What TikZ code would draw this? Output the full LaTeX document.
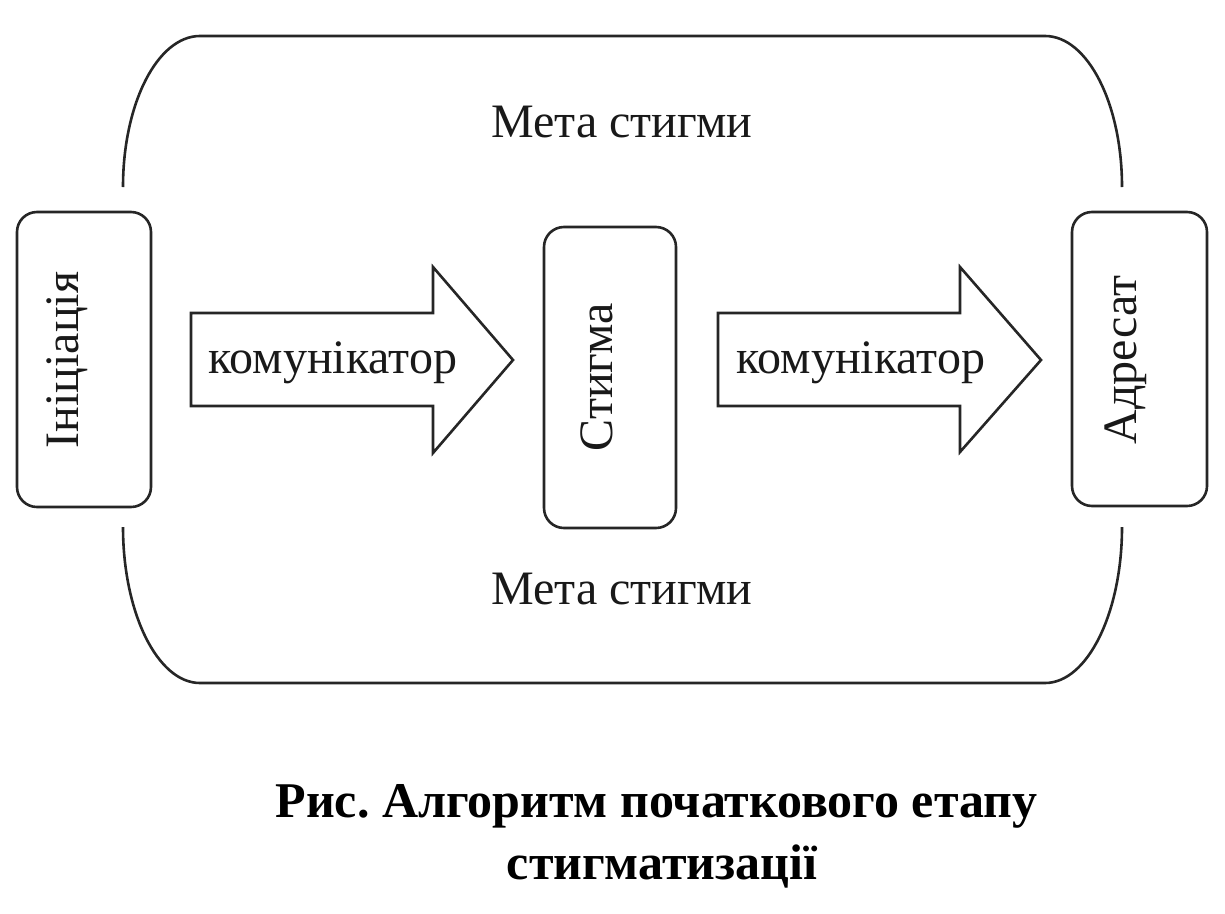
\documentclass[tikz,border=0pt]{standalone}
\usepackage{fontspec}
\setmainfont{Liberation Serif}
\frenchspacing
\begin{document}
\begin{tikzpicture}[x=1pt,y=-1pt,
  line/.style={line width=2.6pt, draw=black!85},
  roundbox/.style={line, rounded corners=20pt, inner sep=0pt},
  lbl/.style={inner sep=0pt, font=\fontsize{48}{56}\selectfont, text=black!90},
  vlbl/.style={lbl, rotate=90, anchor=base},
  captxt/.style={inner sep=0pt, anchor=base, font=\bfseries\fontsize{50}{56}\selectfont}]
\useasboundingbox (0,0) rectangle (1225,913);
% outer frame
\draw[line] (123,187) .. controls (123,103.6) and (157.5,36) .. (200,36) -- (1045,36) .. controls (1087.5,36) and (1122,103.6) .. (1122,187);
\draw[line] (123,527) .. controls (123,612.6) and (157.5,683) .. (200,683) -- (1045,683) .. controls (1087.5,683) and (1122,612.6) .. (1122,527);
% boxes
\node[roundbox, minimum width=134pt, minimum height=295pt] (init) at (84,359.5) {};
\node[roundbox, minimum width=132pt, minimum height=301pt] (stig) at (610,377.5) {};
\node[roundbox, minimum width=135pt, minimum height=294pt] (adr) at (1139.5,359) {};
\node[vlbl] (tinit) at (78,360) {Ініціація};
\node[vlbl] (tstig) at (612,377) {Стигма};
\node[vlbl] (tadr) at (1136,360) {Адресат};
% arrows
\draw[line, line join=miter] (191,313) -- (433,313) -- (433,267) -- (513,360) -- (433,453) -- (433,406) -- (191,406) -- cycle;
\draw[line, line join=miter] (718,313) -- (960,313) -- (960,267) -- (1041,360) -- (960,452) -- (960,406) -- (718,406) -- cycle;
\node[lbl, anchor=base] (k1) at (333,373) {комунікатор};
\node[lbl, anchor=base] (k2) at (861,373) {комунікатор};
% goal labels
\node[lbl, anchor=base] (m1) at (622,137) {Мета стигми};
\node[lbl, anchor=base] (m2) at (622,604) {Мета стигми};
% caption
\node[captxt] (c1) at (656.5,817) {Рис. Алгоритм початкового етапу};
\node[captxt] (c2) at (662,879) {стигматизації};
\end{tikzpicture}
\end{document}
